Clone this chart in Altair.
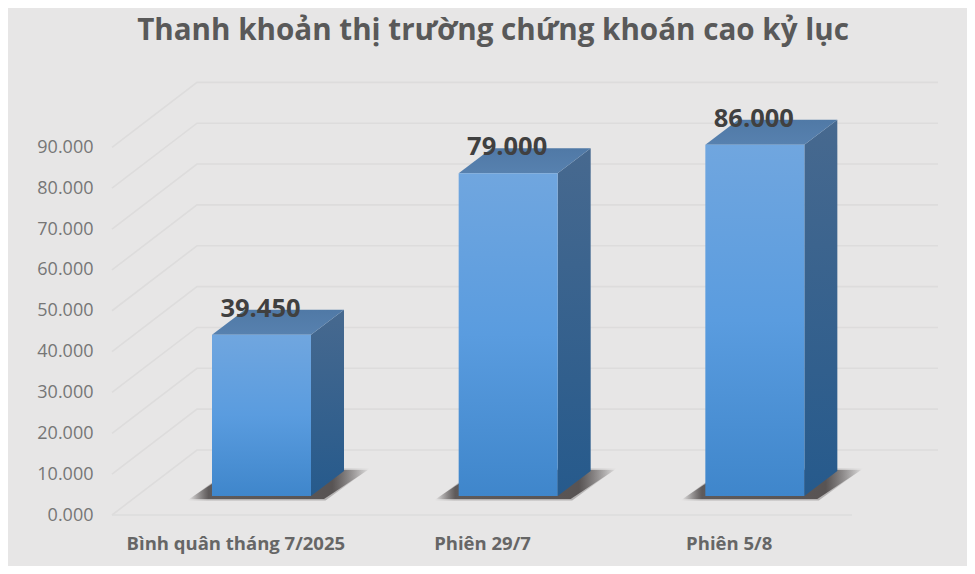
import altair as alt
import pandas as pd

# chart values
categories = ["Bình quân tháng 7/2025", "Phiên 29/7", "Phiên 5/8"]
values = [39450, 79000, 86000]
ticks = [0, 10000, 20000, 30000, 40000, 50000, 60000, 70000, 80000, 90000]
title = "Thanh khoản thị trường chứng khoán cao kỷ lục"

# layout of the fake 3-D box (pixels)
PLOT_W, PLOT_H = 826, 433
SLOT = 246.67
VMAX = 106000
PX_V = VMAX / PLOT_H          # value units per pixel
WALL_DX, WALL_DY = 85 / SLOT, 65 * PX_V
FRONT_END = 740 / SLOT
X_END = PLOT_W / SLOT
BAR_L, BAR_W = 100 / SLOT, 99 / SLOT
BAR_DX, BAR_DY = 33 / SLOT, 25 * PX_V
BASE = 19 * PX_V

BG = "#e7e6e6"
xs = alt.Scale(domain=[0, X_END], nice=False, zero=False)
ys = alt.Scale(domain=[0, VMAX], nice=False, zero=False)

tick_pos = [i + 0.5 for i in range(len(categories))]
label_expr = "{" + ",".join(f"'{p}':'{c}'" for p, c in zip(tick_pos, categories)) + "}[datum.value]"
x_axis = alt.Axis(values=tick_pos, labelExpr=label_expr, grid=False, domain=False, ticks=False,
                  labelPadding=19, labelFontSize=18.5, labelFontWeight="bold", labelColor="#666666",
                  labelFont="Open Sans", labelAngle=0, labelOverlap=False, labelBaseline="top",
                  labelLimit=400)
y_axis = alt.Axis(values=ticks, labelExpr="format(datum.value/1000,'.3f')", grid=False, domain=False,
                  ticks=False, labelPadding=19, labelFontSize=18, labelColor="#767676",
                  labelFont="Open Sans", labelOverlap=False)


def X():
    return alt.X("x:Q", scale=xs, axis=x_axis, title=None)


def Y():
    return alt.Y("y:Q", scale=ys, axis=y_axis, title=None)


def grad(stops, horizontal=False):
    return alt.LinearGradient(
        gradient="linear",
        stops=[alt.GradientStop(color=c, offset=o) for o, c in stops],
        x1=0, y1=0, x2=1 if horizontal else 0, y2=0 if horizontal else 1,
    )


# gridlines
grid_rows = []
for t in ticks:
    grid_rows += [
        {"x": 0, "y": t, "k": t},
        {"x": WALL_DX, "y": t + WALL_DY, "k": t},
        {"x": X_END, "y": t + WALL_DY, "k": t},
    ]
grid_rows += [{"x": 0, "y": 0, "k": -1}, {"x": FRONT_END, "y": 0, "k": -1}]
grid = alt.Chart(pd.DataFrame(grid_rows)).mark_line(
    color="#dddcdc", strokeWidth=1.6
).encode(x=X(), y=Y(), detail="k:N", order=alt.Order("x:Q"))

shadow_rows, side_rows, top_rows, front_rows, label_rows = [], [], [], [], []
for i, v in enumerate(values):
    x0 = i + BAR_L
    x1 = x0 + BAR_W
    top = BASE + v
    for level, e in enumerate([1.5, 0]):
        ex = e / SLOT
        ey = e * PX_V
        lo = BASE - 3 * PX_V - ey
        hi = BASE + 26 * PX_V + ey
        sl, sr = x0 - 23 / SLOT - ex, x1 + 13 / SLOT + ex
        dx = 44 / SLOT
        for px, a, b in [(sl, lo, lo), (sl + dx, lo, hi), (sr, lo, hi), (sr + dx, hi, hi)]:
            shadow_rows.append({"x": px, "y": a, "y2": b, "k": f"{i}", "level": level})
    for px, a, b in [(x1, top, BASE), (x1 + BAR_DX, top + BAR_DY, BASE + BAR_DY)]:
        side_rows.append({"x": px, "y": a, "y2": b, "k": i})
    for px, a, b in [(x0, top, top), (x0 + BAR_DX, top, top + BAR_DY),
                     (x1, top, top + BAR_DY), (x1 + BAR_DX, top + BAR_DY, top + BAR_DY)]:
        top_rows.append({"x": px, "y": a, "y2": b, "k": i})
    front_rows.append({"x": x0, "x2": x1, "y": top, "y2": BASE, "k": i})
    label_rows.append({"x": x0 + BAR_W / 2 - 1 / SLOT, "y": top + 26 * PX_V,
                       "t": f"{v/1000:.3f}"})

shadow_df = pd.DataFrame(shadow_rows)
shadow_fill = grad([(0, "rgba(60,55,55,0)"), (0.11, "rgba(60,55,55,0.8)"),
                    (0.8, "rgba(60,55,55,0.85)"), (1, "rgba(60,55,55,0.05)")], horizontal=True)
shadows = [
    alt.Chart(shadow_df[shadow_df.level == lv]).mark_area(
        color=shadow_fill, opacity=op, orient="vertical"
    ).encode(x=X(), y=Y(), y2="y2:Q", detail="k:N")
    for lv, op in [(0, 0.35), (1, 0.9)]
]

side = alt.Chart(pd.DataFrame(side_rows)).mark_area(
    color=grad([(0, "#47698f"), (1, "#265a8c")]), orient="vertical"
).encode(x=X(), y=Y(), y2="y2:Q", detail="k:N")

top_face = alt.Chart(pd.DataFrame(top_rows)).mark_area(
    color=grad([(0, "#5079a6"), (1, "#5781af")]), orient="vertical"
).encode(x=X(), y=Y(), y2="y2:Q", detail="k:N")

front = alt.Chart(pd.DataFrame(front_rows)).mark_rect(
    color=grad([(0, "#70a6df"), (0.5, "#5a9cdf"), (1, "#3f86cb")])
).encode(x=X(), x2="x2:Q", y=Y(), y2="y2:Q", detail="k:N")

labels = alt.Chart(pd.DataFrame(label_rows)).mark_text(
    font="Open Sans", fontWeight="bold", fontSize=25.5, color="#404040", baseline="middle", align="center"
).encode(x=X(), y=Y(), text="t:N")

chart = alt.layer(grid, *shadows, side, top_face, front, labels).properties(
    width=PLOT_W,
    height=PLOT_H,
    title=alt.TitleParams(title, font="Open Sans", fontSize=29.6, fontWeight="bold", color="#595959",
                          anchor="middle", dx=-32, offset=33),
    padding={"left": 104, "top": 74, "right": 29, "bottom": 51},
    autosize=alt.AutoSizeParams(type="none"),
    background=BG,
).configure_view(stroke=None)

chart.save("out.html", embed_options={"renderer": "svg", "actions": False})
